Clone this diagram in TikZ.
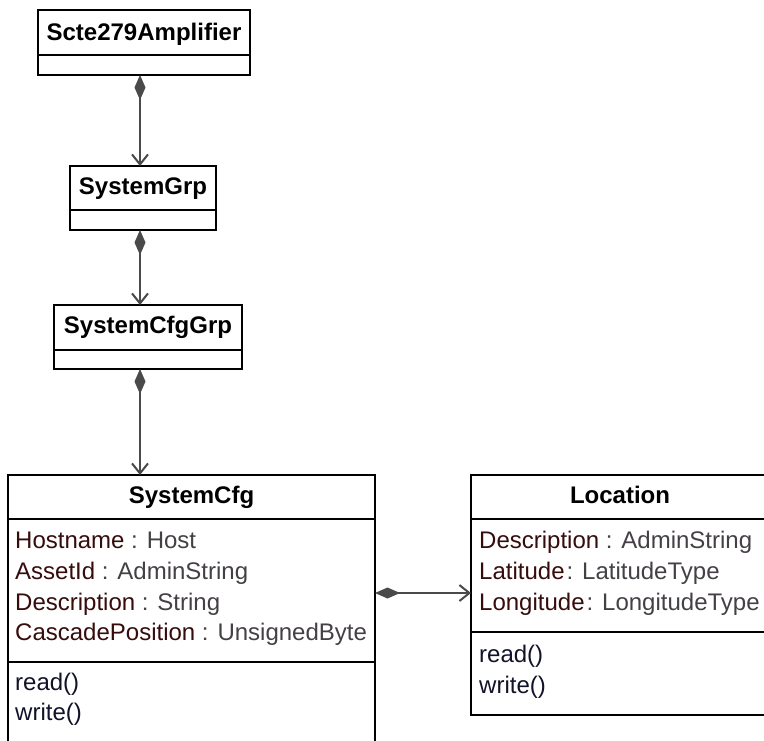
\documentclass[tikz,border=0pt]{standalone}
\usepackage{fontspec}
\setmainfont{Liberation Sans}
\usetikzlibrary{arrows.meta}
\definecolor{attrname}{HTML}{360C0C}
\definecolor{attrtype}{HTML}{444046}
\definecolor{methodc}{HTML}{121228}
\definecolor{linegray}{HTML}{4A4A4A}
\begin{document}
\begin{tikzpicture}[x=1pt,y=-1pt,
  umlbox/.style={draw=black, line width=2pt, rectangle, inner sep=0pt, outer sep=0pt, fill=white},
  divider/.style={draw=black, line width=2pt},
  title/.style={font=\bfseries\fontsize{24}{28}\selectfont, anchor=base, inner sep=0pt},
  attr/.style={font=\fontsize{24}{28}\selectfont, anchor=base west, inner sep=0pt},
  comp/.style={draw=linegray, line width=2pt,
    {Diamond[length=25pt,width=11pt,fill=linegray]}-{Straight Barb[length=10pt,width=16pt]}}]
\useasboundingbox (0,0) rectangle (764,740);
\clip (0,0) rectangle (764,740);
% boxes
\node[umlbox, minimum width=212pt, minimum height=65pt] (amp) at (144,42.5) {};
\node[umlbox, minimum width=146pt, minimum height=64pt] (grp) at (143,198) {};
\node[umlbox, minimum width=188pt, minimum height=64pt] (cfggrp) at (148,337) {};
\node[umlbox, minimum width=367pt, minimum height=285pt] (cfg) at (191.5,617.5) {};
\node[umlbox, minimum width=309pt, minimum height=240pt] (loc) at (625.5,595) {};
% dividers
\draw[divider] ([yshift=-45pt]amp.north west) -- ([yshift=-45pt]amp.north east);
\draw[divider] ([yshift=-44pt]grp.north west) -- ([yshift=-44pt]grp.north east);
\draw[divider] ([yshift=-45pt]cfggrp.north west) -- ([yshift=-45pt]cfggrp.north east);
\draw[divider] ([yshift=-44pt]cfg.north west) -- ([yshift=-44pt]cfg.north east);
\draw[divider] ([yshift=-187pt]cfg.north west) -- ([yshift=-187pt]cfg.north east);
\draw[divider] ([yshift=-44pt]loc.north west) -- ([yshift=-44pt]loc.north east);
\draw[divider] ([yshift=-157pt]loc.north west) -- ([yshift=-157pt]loc.north east);
% titles
\node[title] (tamp) at (144,40) {Scte279Amplifier};
\node[title] (tgrp) at (143,194) {SystemGrp};
\node[title] (tcfggrp) at (148,333) {SystemCfgGrp};
\node[title] (tcfg) at (191.5,503) {SystemCfg};
\node[title] (tloc) at (620,503) {Location};
% SystemCfg attributes
\node[attr] (a1) at (15,548) {\textcolor{attrname}{Hostname}\ \textcolor{attrtype}{: Host}};
\node[attr] (a2) at (15,579) {\textcolor{attrname}{AssetId}\ \textcolor{attrtype}{: AdminString}};
\node[attr] (a3) at (15,610) {\textcolor{attrname}{Description}\ \textcolor{attrtype}{: String}};
\node[attr] (a4) at (15,640) {\textcolor{attrname}{CascadePosition}\ \textcolor{attrtype}{: UnsignedByte}};
\node[attr] (m1) at (15,690) {\textcolor{methodc}{read()}};
\node[attr] (m2) at (15,720) {\textcolor{methodc}{write()}};
% Location attributes
\node[attr] (b1) at (479,548) {\textcolor{attrname}{Description}\ \textcolor{attrtype}{: AdminString}};
\node[attr] (b2) at (479,579) {\textcolor{attrname}{Latitude}\kern2pt\textcolor{attrtype}{: LatitudeType}};
\node[attr] (b3) at (479,610) {\textcolor{attrname}{Longitude}\kern2pt\textcolor{attrtype}{: LongitudeType}};
\node[attr] (n1) at (479,662) {\textcolor{methodc}{read()}};
\node[attr] (n2) at (479,693) {\textcolor{methodc}{write()}};
% connectors
\coordinate (vx) at (140,0);
\coordinate (hy) at (0,593);
\draw[comp] (amp.south -| vx) -- (grp.north -| vx);
\draw[comp] (grp.south -| vx) -- (cfggrp.north -| vx);
\draw[comp] (cfggrp.south -| vx) -- (cfg.north -| vx);
\draw[comp] (cfg.east |- hy) -- (loc.west |- hy);
\end{tikzpicture}
\end{document}
